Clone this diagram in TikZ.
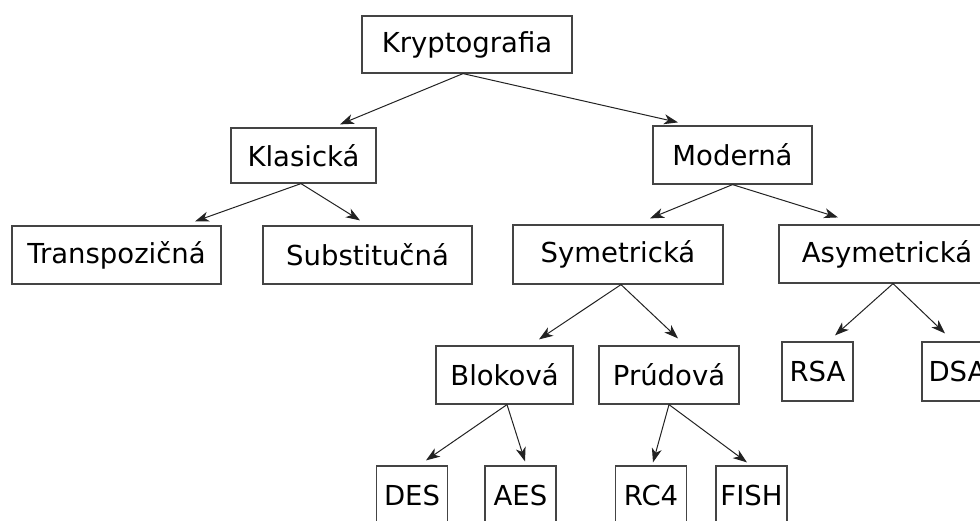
\documentclass[tikz,border=0pt]{standalone}
\usepackage{fontspec}
\setmainfont{DejaVu Sans}
\usetikzlibrary{arrows.meta}
\definecolor{boxline}{HTML}{444444}
\definecolor{arrline}{HTML}{222222}
\begin{document}
\begin{tikzpicture}[x=1pt,y=-1pt,
  box/.style={draw=boxline,line width=1.2pt,fill=white,inner sep=0pt,
    minimum height=58pt,font=\fontsize{27.5}{31}\selectfont,text=black},
  conn/.style={draw=arrline,line width=1pt,
    -{Stealth[length=14pt,width=10pt,inset=4pt]}}]
\useasboundingbox (0,0) rectangle (980,520);
\node[box,minimum width=210pt,minimum height=57pt] (K) at (467,44.5) {Kryptografia};
\node[box,minimum width=145pt,minimum height=55pt] (Kl) at (303.5,155.5) {Klasická};
\node[box,minimum width=159pt] (Mo) at (732.5,155) {Moderná};
\node[box,minimum width=209pt] (Tr) at (116.5,255) {Transpozičná};
\node[box,minimum width=209pt] (Su) at (367.5,255) {Substitučná};
\node[box,minimum width=210pt,minimum height=59pt] (Sy) at (618,254.5) {Symetrická};
\node[box,minimum width=216pt] (As) at (887,254) {Asymetrická};
\node[box,minimum width=137pt] (Bl) at (504.5,375) {Bloková};
\node[box,minimum width=140pt] (Pr) at (669,375) {Prúdová};
\node[box,minimum width=71pt,minimum height=59pt] (RSA) at (817.5,371.5) {RSA};
\node[box,minimum width=71pt,minimum height=59pt] (DSA) at (957.5,371.5) {DSA};
\node[box,minimum width=71pt] (DES) at (412,495) {DES};
\node[box,minimum width=71pt] (AES) at (520.5,495) {AES};
\node[box,minimum width=71pt] (RC4) at (651,495) {RC4};
\node[box,minimum width=71pt] (FISH) at (751.5,495) {FISH};
\draw[conn] ([xshift=-4pt]K.south) -- ([xshift=36.5pt,yshift=3pt]Kl.north);
\draw[conn] ([xshift=-4pt]K.south) -- ([xshift=-54.5pt,yshift=3pt]Mo.north);
\draw[conn] ([xshift=-2.5pt]Kl.south) -- ([xshift=78.5pt,yshift=4pt]Tr.north);
\draw[conn] ([xshift=-2.5pt]Kl.south) -- ([xshift=-7.5pt,yshift=5pt]Su.north);
\draw[conn] (Mo.south) -- ([xshift=32pt,yshift=6pt]Sy.north);
\draw[conn] (Mo.south) -- ([xshift=-49pt,yshift=7pt]As.north);
\draw[conn] ([xshift=3pt]Sy.south) -- ([xshift=34.5pt,yshift=6pt]Bl.north);
\draw[conn] ([xshift=3pt]Sy.south) -- ([xshift=9pt,yshift=7pt]Pr.north);
\draw[conn] ([xshift=6pt]As.south) -- ([xshift=17.5pt,yshift=6pt]RSA.north);
\draw[conn] ([xshift=6pt]As.south) -- ([xshift=-12.5pt,yshift=8pt]DSA.north);
\draw[conn] ([xshift=2.5pt]Bl.south) -- ([xshift=14pt,yshift=5pt]DES.north);
\draw[conn] ([xshift=2.5pt]Bl.south) -- ([xshift=4.5pt,yshift=4pt]AES.north);
\draw[conn] (Pr.south) -- ([xshift=2pt,yshift=3pt]RC4.north);
\draw[conn] (Pr.south) -- ([xshift=-4.5pt,yshift=3pt]FISH.north);
\end{tikzpicture}
\end{document}
